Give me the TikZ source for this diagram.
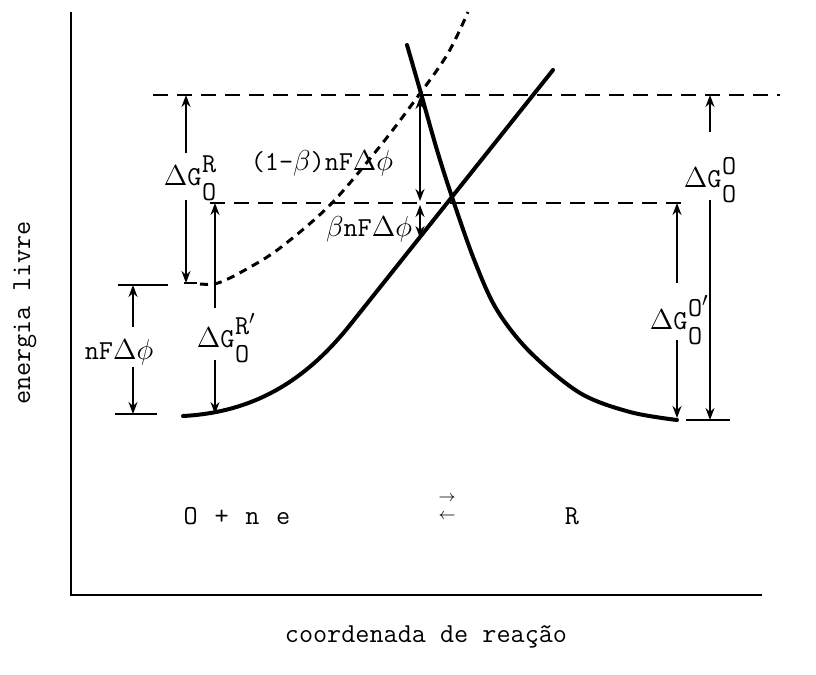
\documentclass[tikz,border=0pt]{standalone}
\usetikzlibrary{arrows.meta}
\newcommand\gsym[1]{$\Delta$G\kern0.02em\makebox[0pt][l]{\raisebox{1.1ex}{#1}}\raisebox{-1.25ex}{O}}
\begin{document}
\begin{tikzpicture}[x=0.5pt,y=-0.5pt,
  axis/.style={line width=1pt},
  dline/.style={line width=0.8pt, dash pattern=on 7.5pt off 4.5pt},
  curveS/.style={line width=2pt, line cap=round, line join=round},
  curveD/.style={line width=1.5pt, dash pattern=on 4pt off 3pt},
  thinl/.style={line width=0.8pt},
  arr/.style={line width=0.8pt, -{Stealth[length=6pt,width=4.5pt]}},
  darr/.style={line width=0.8pt, {Stealth[length=6pt,width=4.5pt]}-{Stealth[length=6pt,width=4.5pt]}},
  lbl/.style={font=\ttfamily\fontsize{13.7}{16}\selectfont, inner sep=0pt}]
\useasboundingbox (0,0) rectangle (816,675);
% coordinates
\coordinate (ax0) at (71,12); \coordinate (ax1) at (71,595); \coordinate (ax2) at (762,595);
\coordinate (td0) at (153,95); \coordinate (td1) at (780,95);
\coordinate (md0) at (210,203); \coordinate (md1) at (688,203);
\coordinate (tk1a) at (118,285); \coordinate (tk1b) at (168,285);
\coordinate (tk2a) at (115,414); \coordinate (tk2b) at (157,414);
\coordinate (tk3a) at (686,420); \coordinate (tk3b) at (730,420);
\coordinate (c0) at (184,283); \coordinate (c1) at (197,283);
\coordinate (gr0) at (186,95); \coordinate (gr1) at (186,153);
\coordinate (gr2) at (186,200); \coordinate (gr3) at (186,283);
\coordinate (grp0) at (215,203); \coordinate (grp1) at (215,308);
\coordinate (grp2) at (215,360); \coordinate (grp3) at (215,414);
\coordinate (nf0) at (133,285); \coordinate (nf1) at (133,327);
\coordinate (nf2) at (133,367); \coordinate (nf3) at (133,414);
\coordinate (b0) at (420,97); \coordinate (b1) at (420,201);
\coordinate (b2) at (420,205); \coordinate (b3) at (420,238);
\coordinate (go0) at (710,95); \coordinate (go1) at (710,132);
\coordinate (go2) at (710,200); \coordinate (go3) at (710,420);
\coordinate (gop0) at (677,203); \coordinate (gop1) at (677,283);
\coordinate (gop2) at (677,340); \coordinate (gop3) at (677,418);
% axes
\draw[axis] (ax0) -- (ax1) -- (ax2);
% dashed levels
\draw[dline] (td0) -- (td1);
\draw[dline] (md0) -- (md1);
% ticks
\draw[thinl] (tk1a) -- (tk1b);
\draw[thinl] (tk2a) -- (tk2b);
\draw[thinl] (tk3a) -- (tk3b);
\draw[thinl] (c0) -- (c1);
% curves
\draw[curveS] (183,416) .. controls (260,412) and (310,375) .. (350,325) -- (553,70);
\draw[curveS] plot[smooth, tension=0.55] coordinates {(407,45) (420,90) (437,150) (453,200) (475,262) (497,310) (530,352) (580,393) (630,412) (677,420)};
\draw[curveD] plot[smooth, tension=0.55] coordinates {(200,284) (218,283) (245,270) (280,248) (330,205) (377,150) (413,103) (447,55) (468,12)};
% arrows
\draw[arr] (gr1) -- (gr0); \draw[arr] (gr2) -- (gr3);
\draw[arr] (grp1) -- (grp0); \draw[arr] (grp2) -- (grp3);
\draw[arr] (nf1) -- (nf0); \draw[arr] (nf2) -- (nf3);
\draw[darr] (b0) -- (b1); \draw[darr] (b2) -- (b3);
\draw[arr] (go1) -- (go0); \draw[arr] (go2) -- (go3);
\draw[arr] (gop1) -- (gop0); \draw[arr] (gop2) -- (gop3);
% labels
\node[lbl] (lgr) at (190,178) {\gsym{R}};
\node[lbl] (lgrp) at (223,338) {\gsym{R$'$}};
\node[lbl] (lnf) at (119,352) {nF$\Delta\phi$};
\node[lbl] (lb1) at (322,163) {(1-$\beta$)nF$\Delta\phi$};
\node[lbl] (lb2) at (369,229) {$\beta$nF$\Delta\phi$};
\node[lbl] (lgo) at (710,180) {\gsym{O}};
\node[lbl] (lgop) at (676,320) {\gsym{O$'$}};
\node[lbl] (lone) at (237,516) {O\hspace{1.3pt} +\hspace{1.3pt} n\hspace{1.3pt} e};
\node[font=\fontsize{8}{9}\selectfont, align=center, inner sep=0pt] (leq) at (447,507) {$\rightarrow$\\$\leftarrow$};
\node[lbl] (lr) at (572,516) {R};
\node[lbl, rotate=90] (ly) at (25,313) {energia livre};
\node[lbl] (lx) at (426,637) {coordenada de reação};
\end{tikzpicture}
\end{document}
